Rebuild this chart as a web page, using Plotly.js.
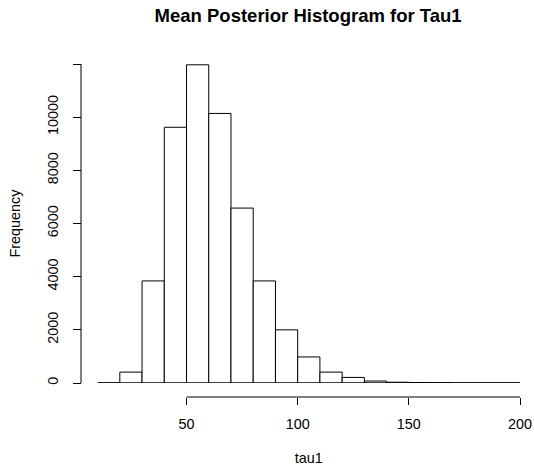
<!DOCTYPE html>
<html>
<head>
<meta charset="utf-8">
<script src="https://cdn.plot.ly/plotly-3.0.1.min.js"></script>
<style>
  html, body { margin: 0; padding: 0; background: #ffffff; }
  #chart { width: 534px; height: 471px; }
</style>
</head>
<body>
<div id="chart"></div>
<script>
// Histogram bin edges for tau1 (width 10)
const binEdges = [10, 20, 30, 40, 50, 60, 70, 80, 90, 100, 110, 120, 130, 140, 150, 160, 170, 180, 190, 200];
// Count in each bin
const binCounts = [0, 410, 3840, 9620, 11970, 10140, 6580, 3840, 2000, 980, 410, 210, 75, 30, 20, 12, 0, 0, 0];
// Axis ticks
const xTickVals = [50, 100, 150, 200];
const xTickText = ['50', '100', '150', '200'];
const yTickVals = [0, 2000, 4000, 6000, 8000, 10000, 12000];
const yTickText = ['0', '2000', '4000', '6000', '8000', '10000', ''];

const mids = binCounts.map((_, i) => (binEdges[i] + binEdges[i + 1]) / 2);
const widths = binCounts.map((_, i) => binEdges[i + 1] - binEdges[i]);

const font = 'Liberation Sans, Arial, sans-serif';
const baseSize = 14.4;

const bars = {
  type: 'bar',
  x: mids,
  y: binCounts,
  width: widths,
  marker: { color: '#ffffff', line: { color: '#000000', width: 1 } },
  hoverinfo: 'x+y',
  showlegend: false
};

// flat segment along zero for the whole binned range
const baseline = {
  type: 'scatter',
  mode: 'lines',
  x: [binEdges[0], binEdges[binEdges.length - 1]],
  y: [0, 0],
  line: { color: '#000000', width: 1 },
  hoverinfo: 'skip',
  showlegend: false
};

const layout = {
  width: 534,
  height: 471,
  margin: { l: 81, r: 14, t: 64, b: 74, pad: 0 },
  paper_bgcolor: '#ffffff',
  plot_bgcolor: '#ffffff',
  font: { family: font, size: baseSize, color: '#000000' },
  bargap: 0,
  title: {
    text: 'Mean Posterior Histogram for Tau1',
    font: { family: font, size: 18.5, color: '#000000', weight: 'bold' },
    xref: 'container', x: 0.577, xanchor: 'center',
    yref: 'container', y: 0.966, yanchor: 'middle'
  },
  xaxis: {
    range: [binEdges[0], binEdges[binEdges.length - 1]],
    domain: [0.0378, 1],
    anchor: 'free',
    position: 0,
    showgrid: false,
    zeroline: false,
    showline: false,
    tickmode: 'array',
    tickvals: xTickVals,
    ticktext: xTickText,
    ticks: 'outside',
    ticklen: 7,
    tickwidth: 1,
    tickcolor: '#000000',
    ticklabelstandoff: 7,
    tickfont: { family: font, size: baseSize, color: '#000000' },
    title: { text: 'tau1', font: { family: font, size: baseSize, color: '#000000' }, standoff: 21 }
  },
  yaxis: {
    range: [0, 12000],
    domain: [0.042, 1],
    anchor: 'free',
    position: 0,
    showgrid: false,
    zeroline: false,
    showline: false,
    tickmode: 'array',
    tickvals: yTickVals,
    ticktext: yTickText,
    tickangle: -90,
    ticks: 'outside',
    ticklen: 8,
    tickwidth: 1,
    tickcolor: '#000000',
    ticklabelstandoff: 9,
    tickfont: { family: font, size: baseSize, color: '#000000' },
    title: { text: 'Frequency', font: { family: font, size: baseSize, color: '#000000' }, standoff: 20 }
  },
  shapes: [
    // x axis line spanning the labelled ticks
    { type: 'line', xref: 'x', yref: 'paper', x0: xTickVals[0], x1: xTickVals[xTickVals.length - 1], y0: 0, y1: 0,
      line: { color: '#000000', width: 1 } },
    // y axis line spanning the ticks
    { type: 'line', xref: 'paper', yref: 'y', x0: 0, x1: 0, y0: yTickVals[0], y1: yTickVals[yTickVals.length - 1],
      line: { color: '#000000', width: 1 } }
  ]
};

Plotly.newPlot('chart', [bars, baseline], layout, { displayModeBar: false, staticPlot: true });
</script>
</body>
</html>
